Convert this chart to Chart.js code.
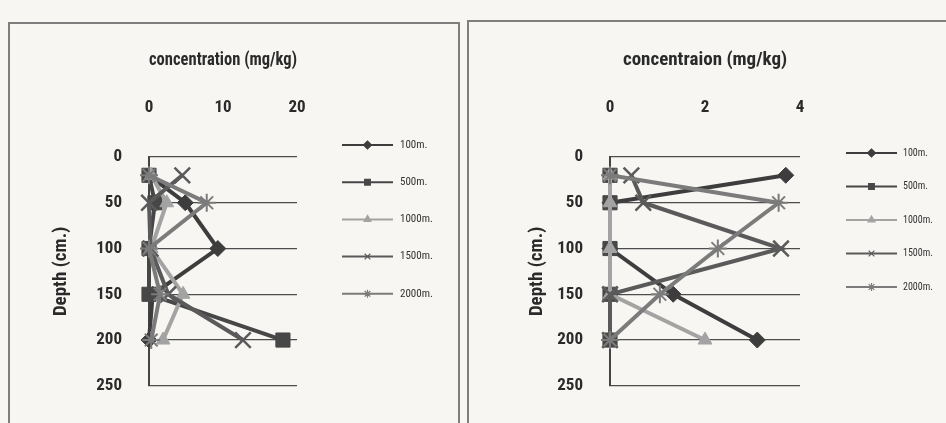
<!DOCTYPE html>
<html>
<head>
<meta charset="utf-8">
<script src="https://cdn.jsdelivr.net/npm/chart.js@4/dist/chart.umd.min.js"></script>
<style>
  html, body { margin: 0; padding: 0; width: 946px; height: 423px; overflow: hidden; background: #f7f6f3; }
  .frame { position: absolute; border: 2px solid #7e7e7e; box-sizing: border-box; }
  #frameA { left: 8px; top: 22px; width: 452px; height: 440px; }
  #frameB { left: 467px; top: 20px; width: 520px; height: 440px; }
  canvas { position: absolute; top: 0; }
  #chartA { left: 0; }
  #chartB { left: 464px; }
</style>
</head>
<body>
<div class="frame" id="frameA"></div>
<div class="frame" id="frameB"></div>
<canvas id="chartA" width="464" height="423"></canvas>
<canvas id="chartB" width="482" height="423"></canvas>
<script>
// Sampling depths (cm) and distance labels
const depthLevels = [20, 50, 100, 150, 200];
const depthTicks = [0, 50, 100, 150, 200, 250];
const seriesLabels = ['100m.', '500m.', '1000m.', '1500m.', '2000m.'];

// Left panel: concentration (mg/kg) per depth
const concTicksA = [0, 10, 20];
const siteA_100m  = [0, 4.9, 9.3, 0.5, 0];
const siteA_500m  = [0, 0.8, 0, 0, 18.1];
const siteA_1000m = [0.3, 2.4, 0.3, 4.6, 1.9];
const siteA_1500m = [4.5, 0, 0.2, 2.6, 12.7];
const siteA_2000m = [0, 7.8, 0, 1.5, 0.3];

// Right panel: concentration (mg/kg) per depth
const concTicksB = [0, 2, 4];
const siteB_100m  = [3.7, 0, 0, 1.33, 3.1];
const siteB_500m  = [0, 0, 0, 0, 0];
const siteB_1000m = [0, 0, 0, 0, 2.0];
const siteB_1500m = [0.45, 0.7, 3.6, 0, 0];
const siteB_2000m = [0, 3.55, 2.27, 1.05, 0];

const titleA = 'concentration (mg/kg)';
const titleB = 'concentraion (mg/kg)';
const depthTitle = 'Depth (cm.)';

const NARROW = "'Roboto Condensed', 'Liberation Sans', Arial, sans-serif";
const TEXT = '#2a2a2a';

const seriesStyles = [
  { color: '#3d3d3d', pointStyle: 'rectRot',  radius: 8,  border: 1 },
  { color: '#474747', pointStyle: 'rect',     radius: 10, border: 1 },
  { color: '#a3a3a3', pointStyle: 'triangle', radius: 8,  border: 1 },
  { color: '#5a5a5a', pointStyle: 'crossRot', radius: 11, border: 2.5 },
  { color: '#7b7b7b', pointStyle: 'star',     radius: 9,  border: 2 }
];

// Line-with-marker legend drawn to the right of the plot area
const sideLegend = {
  id: 'sideLegend',
  afterDraw(chart, args, opts) {
    const ctx = chart.ctx;
    const x0 = chart.chartArea.right + opts.offsetX;
    const x1 = x0 + opts.lineLength;
    chart.data.datasets.forEach((ds, i) => {
      const y = opts.top + i * opts.gap;
      ctx.save();
      ctx.strokeStyle = ds.borderColor;
      ctx.lineWidth = opts.lineWidth;
      ctx.beginPath();
      ctx.moveTo(x0, y);
      ctx.lineTo(x1, y);
      ctx.stroke();
      ctx.fillStyle = ds.backgroundColor;
      ctx.strokeStyle = ds.borderColor;
      ctx.lineWidth = 1.2;
      Chart.helpers.drawPoint(ctx, {
        pointStyle: ds.pointStyle, radius: opts.markerRadius, rotation: 0, borderWidth: 1.2
      }, (x0 + x1) / 2, y);
      ctx.fillStyle = opts.color;
      ctx.font = opts.font;
      ctx.textAlign = 'left';
      ctx.textBaseline = 'middle';
      ctx.fillText(ds.label, x1 + opts.textGap, y);
      ctx.restore();
    });
  }
};

function buildDatasets(seriesValues) {
  const n = seriesValues.length;
  return seriesValues.map((vals, i) => ({
    label: seriesLabels[i],
    data: depthLevels.map((d, j) => ({ x: vals[j], y: d })),
    showLine: true,
    borderColor: seriesStyles[i].color,
    backgroundColor: seriesStyles[i].color,
    borderWidth: 4,
    pointStyle: seriesStyles[i].pointStyle,
    pointRadius: seriesStyles[i].radius,
    pointHoverRadius: seriesStyles[i].radius,
    pointBorderWidth: seriesStyles[i].border,
    pointBackgroundColor: seriesStyles[i].color,
    pointBorderColor: seriesStyles[i].color,
    clip: false,
    order: n - 1 - i
  }));
}

function makeChart(canvasId, seriesValues, concTicks, xTitle, geom, legendOpts) {
  return new Chart(document.getElementById(canvasId), {
    type: 'scatter',
    data: { datasets: buildDatasets(seriesValues) },
    options: {
      responsive: false,
      animation: false,
      devicePixelRatio: 1,
      layout: { padding: geom.padding },
      plugins: {
        legend: { display: false },
        tooltip: { enabled: false },
        sideLegend: legendOpts
      },
      scales: {
        x: {
          type: 'linear',
          position: 'top',
          min: concTicks[0],
          max: concTicks[concTicks.length - 1],
          ticks: {
            stepSize: concTicks[1] - concTicks[0],
            padding: 39,
            color: TEXT,
            font: { family: NARROW, size: 17, weight: 'bold' }
          },
          grid: { display: false, drawTicks: false },
          border: { display: false },
          title: {
            display: true,
            text: xTitle,
            color: TEXT,
            padding: 0,
            font: { family: NARROW, size: 19, weight: 'bold' }
          },
          afterFit(scale) { scale.height = geom.xHeight; }
        },
        y: {
          type: 'linear',
          reverse: true,
          min: depthTicks[0],
          max: depthTicks[depthTicks.length - 1],
          ticks: {
            stepSize: depthTicks[1] - depthTicks[0],
            padding: 27,
            color: TEXT,
            font: { family: NARROW, size: 17, weight: 'bold' }
          },
          grid: { color: '#4d4d4d', lineWidth: 1.3, drawTicks: false },
          border: { display: true, color: '#444444', width: 2 },
          title: {
            display: true,
            text: depthTitle,
            color: TEXT,
            padding: 0,
            font: { family: NARROW, size: 19, weight: 'bold' }
          },
          afterFit(scale) { scale.width = geom.yWidth; }
        }
      }
    },
    plugins: [sideLegend]
  });
}

function drawAll() {
  makeChart('chartA',
    [siteA_100m, siteA_500m, siteA_1000m, siteA_1500m, siteA_2000m],
    concTicksA, titleA,
    { padding: { left: 50, top: 49, right: 167, bottom: 25 }, xHeight: 108, yWidth: 99 },
    { offsetX: 45, lineLength: 51, top: 145, gap: 37.2, lineWidth: 2, markerRadius: 4,
      textGap: 7, color: '#333333', font: "11px " + NARROW });

  makeChart('chartB',
    [siteB_100m, siteB_500m, siteB_1000m, siteB_1500m, siteB_2000m],
    concTicksB, titleB,
    { padding: { left: 62, top: 49, right: 146, bottom: 25 }, xHeight: 108, yWidth: 84 },
    { offsetX: 46, lineLength: 51, top: 153, gap: 33.5, lineWidth: 2, markerRadius: 4,
      textGap: 6, color: '#333333', font: "10px " + NARROW });
}

// Make sure the condensed face is ready before the canvases measure text
Promise.all([
  document.fonts.load("bold 19px 'Roboto Condensed'"),
  document.fonts.load("bold 17px 'Roboto Condensed'"),
  document.fonts.load("11px 'Roboto Condensed'")
]).catch(() => {}).then(drawAll);
</script>
</body>
</html>
